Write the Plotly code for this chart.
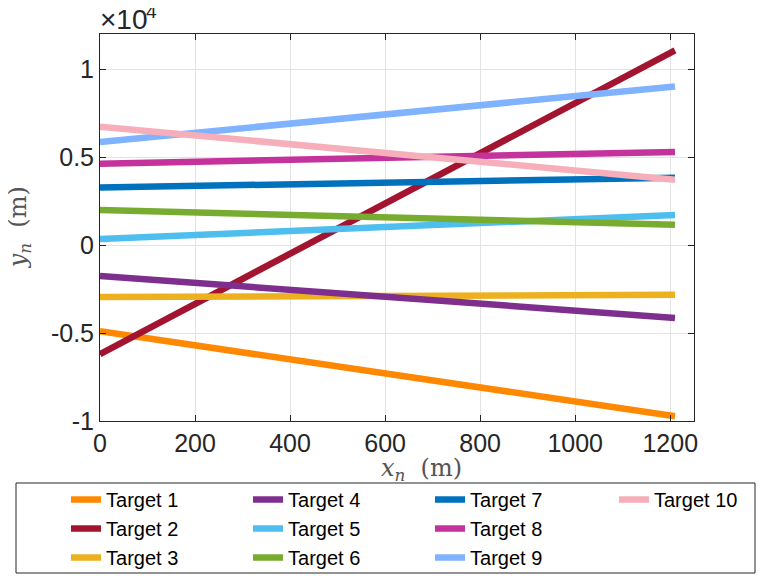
import plotly.graph_objects as go

# x positions (m) at which values were read
x_n = [0, 200, 400, 600, 800, 1000, 1210]

# y positions (m) per target
target_1 = [-4900, -5700, -6500, -7300, -8090, -8890, -9730]
target_2 = [-6200, -3350, -490, 2360, 5220, 8070, 11070]
target_3 = [-2950, -2930, -2890, -2840, -2820, -2820, -2830]
target_4 = [-1750, -2150, -2540, -2940, -3330, -3730, -4140]
target_5 = [350, 580, 800, 1030, 1250, 1480, 1715]
target_6 = [2000, 1860, 1720, 1580, 1440, 1300, 1150]
target_7 = [3270, 3360, 3460, 3550, 3640, 3740, 3835]
target_8 = [4630, 4740, 4850, 4960, 5070, 5180, 5295]
target_9 = [5860, 6380, 6900, 7430, 7950, 8470, 9020]
target_10 = [6730, 6230, 5730, 5240, 4740, 4240, 3720]

names = ["Target %d" % i for i in range(1, 11)]
series = [target_1, target_2, target_3, target_4, target_5,
          target_6, target_7, target_8, target_9, target_10]
colors = ["#FF8800", "#A2142F", "#EDB120", "#7E2F8E", "#4DBEEE",
          "#77AC30", "#0072BD", "#C4329B", "#80B3FF", "#F6AFBA"]
# legend columns of the reference: 1-3, 4-6, 7-9, 10
legend_ids = ["legend", "legend", "legend",
              "legend2", "legend2", "legend2",
              "legend3", "legend3", "legend3",
              "legend4"]

y_ticks = [-10000, -5000, 0, 5000, 10000]
y_tick_text = ["-1", "-0.5", "0", "0.5", "1"]

fig = go.Figure()
for i in range(len(names)):
    fig.add_trace(
        go.Scatter(
            x=x_n,
            y=series[i],
            mode="lines",
            name=names[i],
            line=dict(color=colors[i], width=6.5),
            legend=legend_ids[i],
        )
    )

ink = "#262626"


def legend_col(x):
    return dict(
        orientation="v",
        x=x,
        y=-0.1525,
        xanchor="left",
        yanchor="top",
        borderwidth=0,
        bgcolor="rgba(0,0,0,0)",
        font=dict(size=20, color="black"),
        traceorder="normal",
    )


# page body has an 8px margin, so the figure is 8px smaller than the window
fig.update_layout(
    width=760,
    height=568,
    paper_bgcolor="white",
    plot_bgcolor="white",
    margin=dict(l=92, r=74, t=26, b=155, autoexpand=False),
    font=dict(family="Liberation Sans, Arial, sans-serif", color=ink),
    showlegend=True,
    legend=legend_col(-0.0572),
    legend2=legend_col(0.2492),
    legend3=legend_col(0.5556),
    legend4=legend_col(0.8653),
)

# frame around the four legend columns
fig.add_shape(
    type="rect", xref="paper", yref="paper",
    x0=-0.1414, x1=1.1027, y0=-0.3928, y1=-0.1602,
    line=dict(color=ink, width=1), fillcolor="rgba(0,0,0,0)",
)

fig.update_xaxes(
    range=[0, 1250],
    tickvals=[0, 200, 400, 600, 800, 1000, 1200],
    showgrid=True,
    gridcolor="#e3e3e3",
    zeroline=False,
    showline=True,
    linecolor=ink,
    linewidth=1,
    mirror="ticks",
    ticks="inside",
    ticklen=6,
    tickcolor=ink,
    tickfont=dict(size=25, color=ink),
)
fig.update_yaxes(
    range=[-10000, 12000],
    tickvals=y_ticks,
    ticktext=y_tick_text,
    showgrid=True,
    gridcolor="#e3e3e3",
    zeroline=False,
    showline=True,
    linecolor=ink,
    linewidth=1,
    mirror="ticks",
    ticks="inside",
    ticklen=6,
    tickcolor=ink,
    tickfont=dict(size=25, color=ink),
)

# exponent label and axis titles (MATLAB style)
fig.add_annotation(
    x=0, y=1, xref="paper", yref="paper", xanchor="left", yanchor="bottom",
    text="×10", showarrow=False, yshift=-3, xshift=-2,
    font=dict(size=28, color=ink),
)
fig.add_annotation(
    x=0, y=1, xref="paper", yref="paper", xanchor="left", yanchor="bottom",
    text="4", showarrow=False, xshift=44, yshift=10,
    font=dict(size=19, color=ink),
)
fig.add_annotation(
    x=0.542, y=-0.125, xref="paper", yref="paper",
    xanchor="center", yanchor="middle",
    text="<i>x<sub>n</sub></i>  (m)", showarrow=False,
    font=dict(size=24, color="#555555", family="DejaVu Serif, Liberation Serif, serif"),
)
fig.add_annotation(
    x=-0.135, y=0.5, xref="paper", yref="paper",
    xanchor="center", yanchor="middle", textangle=-90,
    text="<i>y<sub>n</sub></i>  (m)", showarrow=False,
    font=dict(size=24, color="#555555", family="DejaVu Serif, Liberation Serif, serif"),
)

fig.write_html("out.html")
